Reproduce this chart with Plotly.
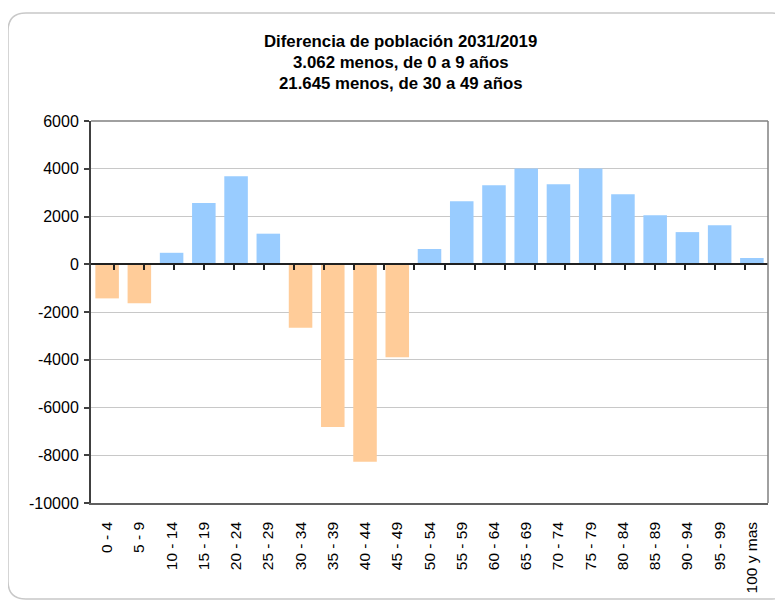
import plotly.graph_objects as go

# datos
grupos = ["0 - 4", "5 - 9", "10 - 14", "15 - 19", "20 - 24", "25 - 29", "30 - 34",
          "35 - 39", "40 - 44", "45 - 49", "50 - 54", "55 - 59", "60 - 64", "65 - 69",
          "70 - 74", "75 - 79", "80 - 84", "85 - 89", "90 - 94", "95 - 99", "100 y mas"]
diferencia = [-1430, -1632, 480, 2570, 3690, 1280, -2660,
              -6820, -8270, -3895, 640, 2640, 3305, 4010,
              3350, 4010, 2930, 2055, 1346, 1638, 263]
y_ticks = [-10000, -8000, -6000, -4000, -2000, 0, 2000, 4000, 6000]
titulo = ["Diferencia de población 2031/2019",
          "3.062 menos, de 0 a 9 años",
          "21.645 menos, de 30 a 49 años"]

AZUL = "#99CCFF"
NARANJA = "#FFCC99"
FONT = "Liberation Sans"

# la página tiene 8 px de margen en el body: todo va desplazado
OFF = 8
W, H = 783 - OFF, 605 - OFF
L, R, T, B = 91 - OFF, 768 - OFF, 121 - OFF, 503 - OFF   # área de trazado en px
YMIN, YMAX = -10000, 6000


def px_x(px):
    return (px - OFF - L) / (R - L)


def px_y(py):
    return (B - (py - OFF)) / (B - T)


colores = [AZUL if v >= 0 else NARANJA for v in diferencia]

fig = go.Figure()
fig.add_trace(go.Bar(
    x=grupos, y=diferencia, marker_color=colores, marker_line_width=0,
    hoverinfo="x+y", showlegend=False,
))
# traza invisible para el eje de ceros con marcas de categoría
fig.add_trace(go.Scatter(
    x=grupos, y=diferencia, xaxis="x2", mode="markers",
    marker=dict(opacity=0), hoverinfo="skip", showlegend=False,
))

# marco redondeado exterior (coordenadas de pantalla)
x0, x1, y0, y1, r = 8, 790, 13, 599, 18
path = (f"M {px_x(x0 + r)} {px_y(y0)} L {px_x(x1 - r)} {px_y(y0)} "
        f"Q {px_x(x1)} {px_y(y0)} {px_x(x1)} {px_y(y0 + r)} "
        f"L {px_x(x1)} {px_y(y1 - r)} Q {px_x(x1)} {px_y(y1)} {px_x(x1 - r)} {px_y(y1)} "
        f"L {px_x(x0 + r)} {px_y(y1)} Q {px_x(x0)} {px_y(y1)} {px_x(x0)} {px_y(y1 - r)} "
        f"L {px_x(x0)} {px_y(y0 + r)} Q {px_x(x0)} {px_y(y0)} {px_x(x0 + r)} {px_y(y0)} Z")

shapes = [
    dict(type="path", xref="paper", yref="paper", path=path,
         line=dict(color="#C8C8C8", width=1.5), layer="below"),
    dict(type="line", xref="paper", yref="paper", x0=0, x1=1, y0=1, y1=1,
         line=dict(color="#808080", width=1.5)),
    dict(type="line", xref="paper", yref="paper", x0=1, x1=1, y0=0, y1=1,
         line=dict(color="#808080", width=1.5)),
]

annotations = []
for texto, cy in zip(titulo, [41, 62.5, 84]):
    annotations.append(dict(
        text=f"<b>{texto}</b>", xref="paper", yref="paper",
        x=px_x(400), y=px_y(cy), xanchor="center", yanchor="middle",
        showarrow=False, font=dict(family=FONT, size=16.8, color="#000000"),
    ))

fig.update_layout(
    width=W, height=H,
    margin=dict(l=L, r=W - R, t=T, b=H - B, pad=0),
    paper_bgcolor="white", plot_bgcolor="white",
    font=dict(family=FONT, size=15.5, color="#000000"),
    bargap=0.27,
    shapes=shapes,
    annotations=annotations,
    xaxis=dict(
        type="category", showgrid=False, showline=True, linecolor="#606060", linewidth=1.5,
        ticks="", tickangle=-90, tickfont=dict(family=FONT, size=15.5),
        ticklabelstandoff=11,
    ),
    xaxis2=dict(
        type="category", overlaying="x", anchor="free",
        position=(0 - YMIN) / (YMAX - YMIN),
        showline=True, linecolor="#202020", linewidth=2,
        ticks="outside", tickson="boundaries", ticklen=5, tickwidth=1.5, tickcolor="#202020",
        showticklabels=False, showgrid=False,
    ),
    yaxis=dict(
        range=[YMIN, YMAX], tickvals=y_ticks, ticktext=[str(v) for v in y_ticks],
        showgrid=True, gridcolor="#C8C8C8", gridwidth=1, zeroline=False,
        showline=True, linecolor="#404040", linewidth=2,
        ticks="outside", ticklen=5, tickwidth=1.5, tickcolor="#404040",
        tickfont=dict(family=FONT, size=16), ticklabelstandoff=2,
    ),
)

fig.write_html("out.html")
